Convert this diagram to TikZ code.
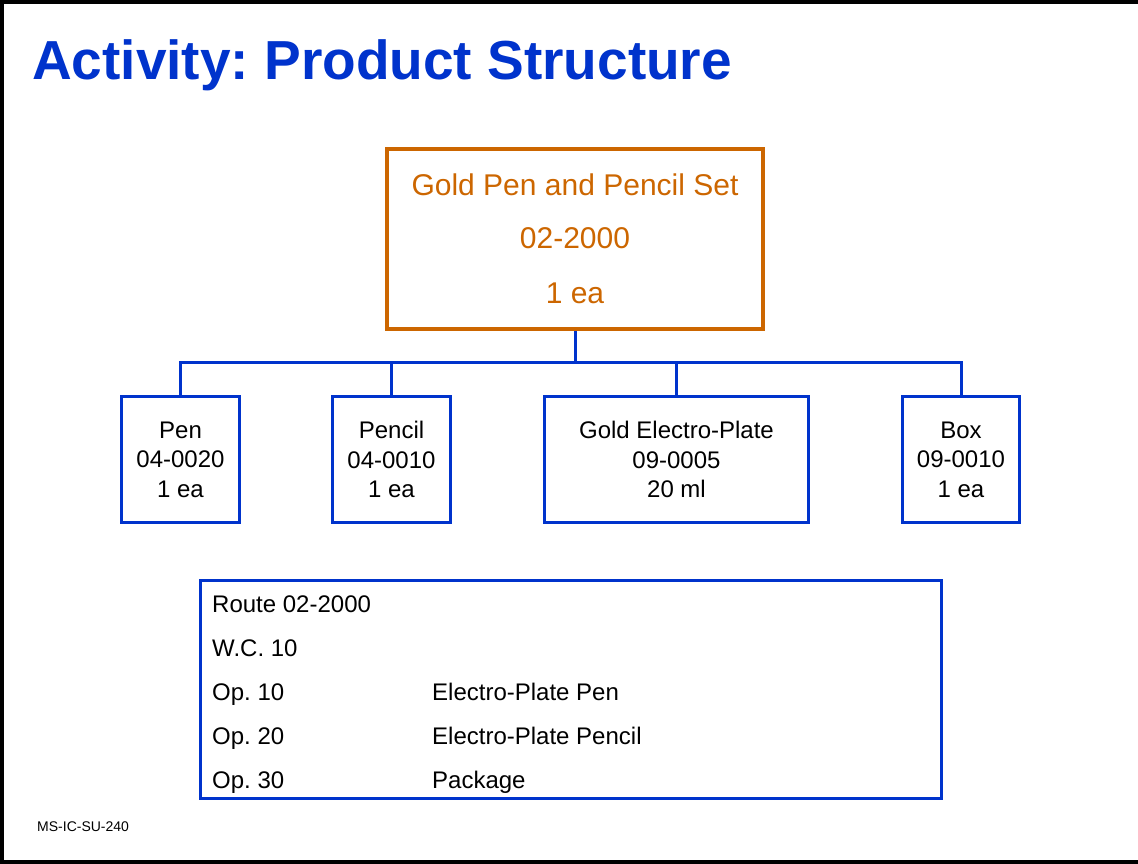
\documentclass[tikz,border=0pt]{standalone}
\usepackage{fontspec}
\setmainfont{Liberation Sans}
\usepackage{tikz}
\definecolor{slideblue}{HTML}{0033CC}
\definecolor{setorange}{HTML}{CC6600}
\frenchspacing

\begin{document}
\begin{tikzpicture}[x=1pt, y=1pt,
    part/.style={draw=slideblue, line width=3pt, align=center, inner sep=0pt,
        minimum height=126pt, font=\fontsize{24}{29.5}\selectfont},
    link/.style={draw=slideblue, line width=3pt},
    rowtext/.style={anchor=base west, inner sep=0pt, font=\fontsize{24}{29}\selectfont}]
    \useasboundingbox (0,0) rectangle (1138,-863);

    % ==========================================
    % SLIDE FRAME AND TITLE
    % ==========================================
    \draw[line width=4pt] (1138,-2) -- (2,-2) -- (2,-862) -- (1138,-862);
    \node[anchor=base west, inner sep=0pt, text=slideblue,
        font=\fontsize{55}{60}\bfseries\selectfont] (title) at (32,-79)
        {Activity: Product Structure};

    % ==========================================
    % PARENT ITEM
    % ==========================================
    \node[draw=setorange, line width=4pt, text=setorange, align=center,
        minimum width=376pt, minimum height=180pt, inner sep=0pt,
        font=\fontsize{30}{55}\selectfont] (set) at (575,-239)
        {\raisebox{-2pt}{Gold Pen and Pencil Set}\\02-2000\\1 ea};

    % ==========================================
    % COMPONENTS
    % ==========================================
    \node[part, minimum width=118pt] (pen) at (180.5,-459.5) {Pen\\04-0020\\1 ea};
    \node[part, minimum width=118pt] (pencil) at (391.5,-459.5) {Pencil\\04-0010\\1 ea};
    \node[part, minimum width=264pt] (plate) at (676.5,-459.5) {Gold Electro-Plate\\09-0005\\20 ml};
    \node[part, minimum width=117pt] (box) at (961,-459.5) {Box\\09-0010\\1 ea};

    % Tree connectors
    \draw[link] (set.south) -- ++(0,-31) coordinate (bus);
    \foreach \item in {pen, pencil, plate, box}
        \draw[link, line join=miter] (\item.north) |- (bus);

    % ==========================================
    % ROUTING
    % ==========================================
    \node[draw=slideblue, line width=3pt, minimum width=741pt, minimum height=218pt,
        inner sep=0pt] (route) at (571,-689.5) {};
    \node[rowtext] (rtitle) at (212,-612) {Route 02-2000};
    \node[rowtext] (wc) at (212,-656) {W.C. 10};
    \node[rowtext] (op10) at (212,-700) {Op. 10};
    \node[rowtext] (op20) at (212,-744) {Op. 20};
    \node[rowtext] (op30) at (212,-788) {Op. 30};
    \node[rowtext] (step10) at (432,-700) {Electro-Plate Pen};
    \node[rowtext] (step20) at (432,-744) {Electro-Plate Pencil};
    \node[rowtext] (step30) at (432,-788) {Package};

    % Footer
    \node[anchor=base west, inner sep=0pt, font=\fontsize{14}{16}\selectfont]
        (code) at (37,-831) {MS-IC-SU-240};
\end{tikzpicture}
\end{document}
